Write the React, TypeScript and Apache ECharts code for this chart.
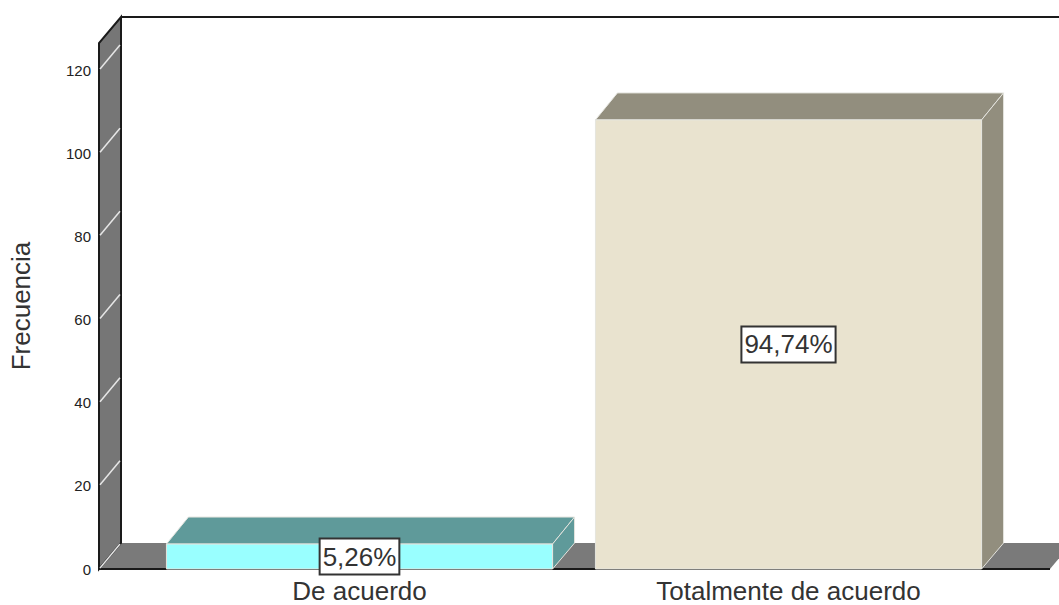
import React, { useEffect, useRef } from "react";
import * as echarts from "echarts";

const categories = ["De acuerdo", "Totalmente de acuerdo"];
const frequencies = [6, 108];
const percentLabels = ["5,26%", "94,74%"];
const yTicks = [0, 20, 40, 60, 80, 100, 120];
const yMax = 126.5;
const frontColors = ["#99ffff", "#e9e3cf"];
const shadeColors = ["#5f9a9a", "#928e7e"];

const depthX = 22;
const depthY = -26;
const barDepthY = -27;
const gridLeft = 145;
const gridRight = 1003;
const wallOverhang = 46;
const FONT = '"Liberation Sans", Arial, sans-serif';

export default function App() {
  const ref = useRef<HTMLDivElement>(null);
  useEffect(() => {
    const chart = echarts.init(ref.current!, undefined, { renderer: "svg" });
    const wallLine = { stroke: "#1a1a1a", lineWidth: 2 };
    chart.setOption({
      animation: false,
      backgroundColor: "#ffffff",
      grid: { left: gridLeft, width: gridRight - gridLeft, top: 43, height: 526 },
      xAxis: {
        type: "category",
        data: categories,
        axisLine: { show: false },
        axisTick: { show: false },
        axisLabel: { color: "#333333", fontSize: 26, fontFamily: FONT, margin: 9 },
      },
      yAxis: {
        type: "value",
        min: 0,
        max: yMax,
        interval: 20,
        offset: wallOverhang,
        name: "Frecuencia",
        nameLocation: "middle",
        nameGap: 65,
        nameTextStyle: { color: "#333333", fontSize: 26, fontFamily: FONT },
        axisLine: { show: false },
        axisTick: { show: false },
        splitLine: { show: false },
        axisLabel: { color: "#222222", fontSize: 15, fontFamily: FONT, margin: 8, showMaxLabel: false },
      },
      series: [
        {
          type: "custom",
          name: "walls",
          clip: false,
          silent: true,
          z: 1,
          data: [[0, 0]],
          renderItem: (_p: any, api: any) => {
            const [, y0] = api.coord([0, 0]);
            const [, yT] = api.coord([0, yMax]);
            const xL = gridLeft - wallOverhang;
            const xR = xL + 951;
            return {
              type: "group",
              children: [
                {
                  type: "polygon",
                  shape: { points: [[xL, y0], [xL + depthX, y0 + depthY], [xR + depthX, y0 + depthY], [xR, y0]] },
                  style: { fill: "#7a7a7a" },
                },
                {
                  type: "polygon",
                  shape: { points: [[xL, y0], [xL, yT], [xL + depthX, yT + depthY], [xL + depthX, y0 + depthY]] },
                  style: { fill: "#767676", ...wallLine },
                },
                {
                  type: "line",
                  shape: { x1: xL + depthX, y1: yT + depthY, x2: 1059, y2: yT + depthY },
                  style: wallLine,
                },
                {
                  type: "line",
                  shape: { x1: xL, y1: y0, x2: xR, y2: y0 },
                  style: wallLine,
                },
              ],
            };
          },
        },
        {
          type: "custom",
          name: "ticks",
          clip: false,
          silent: true,
          z: 2,
          data: yTicks.map((v) => [0, v]),
          renderItem: (_p: any, api: any) => {
            const [, y] = api.coord([0, api.value(1)]);
            const xL = gridLeft - wallOverhang;
            return {
              type: "line",
              shape: { x1: xL + 1, y1: y - 1, x2: xL + depthX - 1, y2: y + depthY + 1 },
              style: { stroke: "#e6e6e6", lineWidth: 1.5 },
            };
          },
        },
        {
          type: "custom",
          name: "Frecuencia",
          clip: false,
          z: 3,
          data: frequencies.map((v, i) => [i, v]),
          renderItem: (p: any, api: any) => {
            const i = p.dataIndex;
            const [cx, yTop] = api.coord([api.value(0), api.value(1)]);
            const [, y0] = api.coord([api.value(0), 0]);
            const w = api.size([1, 0])[0] * 0.9;
            const l = cx - w / 2;
            const r = cx + w / 2;
            const edge = { stroke: "#e4e4de", lineWidth: 1 };
            return {
              type: "group",
              children: [
                {
                  type: "polygon",
                  shape: { points: [[l, yTop], [l + depthX, yTop + barDepthY], [r + depthX, yTop + barDepthY], [r, yTop]] },
                  style: { fill: shadeColors[i], ...edge },
                },
                {
                  type: "polygon",
                  shape: { points: [[r, yTop], [r + depthX, yTop + barDepthY], [r + depthX, y0 + depthY], [r, y0]] },
                  style: { fill: shadeColors[i], ...edge },
                },
                {
                  type: "rect",
                  shape: { x: l, y: yTop, width: w, height: y0 - yTop },
                  style: { fill: frontColors[i], ...edge },
                },
                {
                  type: "text",
                  z2: 10,
                  style: {
                    x: cx,
                    y: (yTop + y0) / 2,
                    text: percentLabels[i],
                    align: "center",
                    verticalAlign: "middle",
                    font: `26px ${FONT}`,
                    fill: "#333333",
                    backgroundColor: "#ffffff",
                    borderColor: "#333333",
                    borderWidth: 2,
                    padding: [4, 2, 4, 2],
                  },
                },
              ],
            };
          },
        },
      ],
    });
    return () => chart.dispose();
  }, []);
  return <div ref={ref} style={{ position: "fixed", left: 0, top: 0, width: 1059, height: 605 }} />;
}
